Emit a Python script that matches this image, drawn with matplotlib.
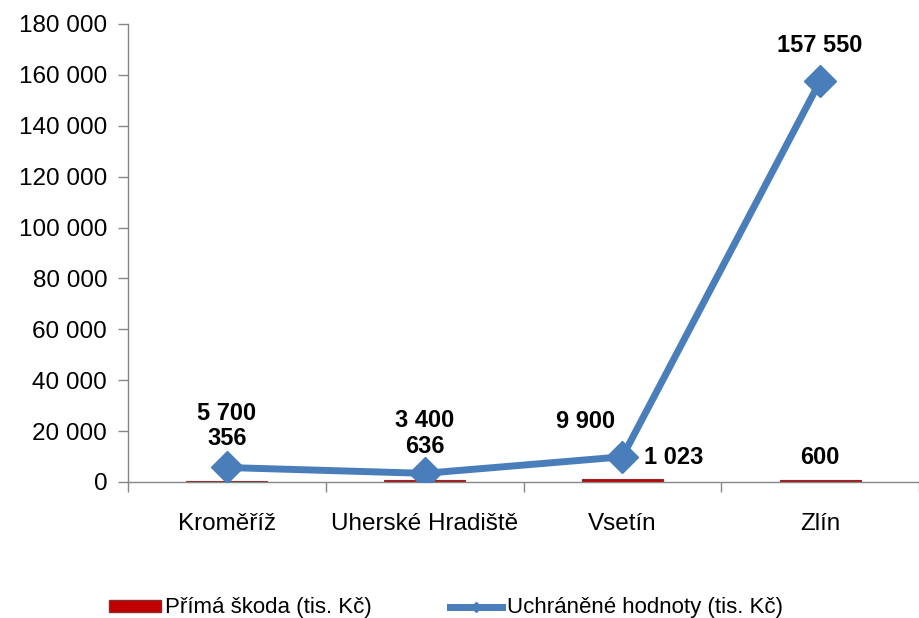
import matplotlib
matplotlib.use("Agg")
import matplotlib.pyplot as plt
from matplotlib.ticker import FuncFormatter, FixedLocator
from matplotlib.lines import Line2D
from matplotlib.patches import Patch

categories = ["Kroměříž", "Uherské Hradiště", "Vsetín", "Zlín"]
prima_skoda = [356, 636, 1023, 600]
uchranene = [5700, 3400, 9900, 157550]
series_names = ["Přímá škoda (tis. Kč)", "Uchráněné hodnoty (tis. Kč)"]

plt.rcParams['font.family'] = ['Liberation Sans', 'DejaVu Sans']

fig = plt.figure(figsize=(9.19, 6.18), dpi=100)
ax = fig.add_axes([128/919, 1-482/618, 1-128/919, (482-24)/618])

x = list(range(len(categories)))
red = "#C00000"
blue = "#4A7EBB"
ax.bar(x, prima_skoda, width=0.41, color=red, edgecolor="#8B2B2B", linewidth=0.8, zorder=2)
ax.plot(x, uchranene, color=blue, linewidth=5, marker="D", markersize=16,
        markerfacecolor=blue, markeredgecolor=blue, zorder=3, solid_capstyle="round")

ax.set_xlim(-0.5, len(categories) - 0.5)
ax.set_ylim(0, 180000)
ax.yaxis.set_major_locator(FixedLocator(range(0, 180001, 20000)))
ax.yaxis.set_major_formatter(FuncFormatter(lambda v, p: f"{int(v):,}".replace(",", " ")))
ax.set_xticks(x)
ax.set_xticklabels(categories)
ax.xaxis.set_minor_locator(FixedLocator([i + 0.5 for i in range(-1, len(categories))]))
ax.tick_params(axis="x", which="major", length=0, pad=22, labelsize=17.5)
ax.tick_params(axis="x", which="minor", length=7, color="#868686", width=1)
ax.tick_params(axis="y", length=7, color="#868686", width=1, labelsize=17.5, pad=8)

for s in ["top", "right"]:
    ax.spines[s].set_visible(False)
for s in ["left", "bottom"]:
    ax.spines[s].set_color("#868686")
    ax.spines[s].set_linewidth(1)

fmt = lambda v: f"{v:,}".replace(",", " ")
lbl = dict(fontsize=17, fontweight="bold", ha="center", va="center",
           textcoords="offset pixels", annotation_clip=False)
# line labels
line_off = [(0, 54), (0, 53), (-37, 35), (0, 36)]
for i, v in enumerate(uchranene):
    ax.annotate(fmt(v), (x[i], v), xytext=line_off[i], **lbl)
# bar labels
bar_off = [(0, 43), (0, 34), (51, 22), (0, 23)]
for i, v in enumerate(prima_skoda):
    ax.annotate(fmt(v), (x[i], v), xytext=bar_off[i], **lbl)

handles = [Patch(facecolor=red, edgecolor="#8B2B2B"),
           Line2D([0], [0], color=blue, linewidth=5, marker="D", markersize=5)]
leg = fig.legend(handles, series_names, loc="center", bbox_to_anchor=(0.485, 1-608/618),
                 ncol=2, frameon=False, fontsize=16, handlelength=2.35, handletextpad=0.2,
                 columnspacing=3.5, handleheight=0.45)

fig.savefig("out.png", dpi=100)
